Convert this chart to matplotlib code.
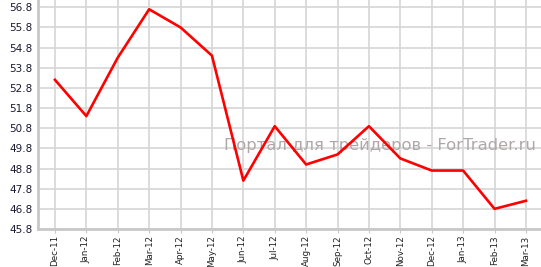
import matplotlib
matplotlib.use("Agg")
import matplotlib.pyplot as plt
import numpy as np

months = ["Dec-11", "Jan-12", "Feb-12", "Mar-12", "Apr-12", "May-12", "Jun-12", "Jul-12",
          "Aug-12", "Sep-12", "Oct-12", "Nov-12", "Dec-12", "Jan-13", "Feb-13", "Mar-13"]
values = [53.2, 51.4, 54.3, 56.7, 55.8, 54.4, 48.2, 50.9,
          49.0, 49.5, 50.9, 49.3, 48.7, 48.7, 46.8, 47.2]
yticks = [45.8, 46.8, 47.8, 48.8, 49.8, 50.8, 51.8, 52.8, 53.8, 54.8, 55.8, 56.8]

fig = plt.figure(figsize=(5.41, 2.67), dpi=100)
ax = fig.add_axes([38/541, 38/267, 1 - 38/541, 1 - 38/267])

x = np.arange(len(months))
ax.plot(x, values, color="#ff0000", lw=1.9, zorder=3)

ax.set_xlim(-0.54, 15.48)
ax.set_ylim(45.8, 57.16)
ax.set_yticks(yticks)
ax.set_yticklabels(["%.1f" % v for v in yticks], fontsize=7.5, color="#1a1a2e")
ax.set_xticks(x)
ax.set_xticklabels(months, rotation=90, fontsize=6.3, color="#222222")

ax.grid(True, color="#d6d6d6", lw=1.2)
ax.set_axisbelow(True)
for s in ["top", "right"]:
    ax.spines[s].set_visible(False)
for s in ["left", "bottom"]:
    ax.spines[s].set_color("#c8c8c8")
    ax.spines[s].set_linewidth(2)
ax.tick_params(axis="y", length=0, pad=4)
ax.tick_params(axis="x", length=3, color="#c8c8c8", pad=1.5)

ax.text(0.99, 0.365, "Портал для трейдеров - ForTrader.ru", transform=ax.transAxes,
        ha="right", va="center", fontsize=11.8, color="#b0a8a8", zorder=2)

fig.savefig("out.png", dpi=100)
